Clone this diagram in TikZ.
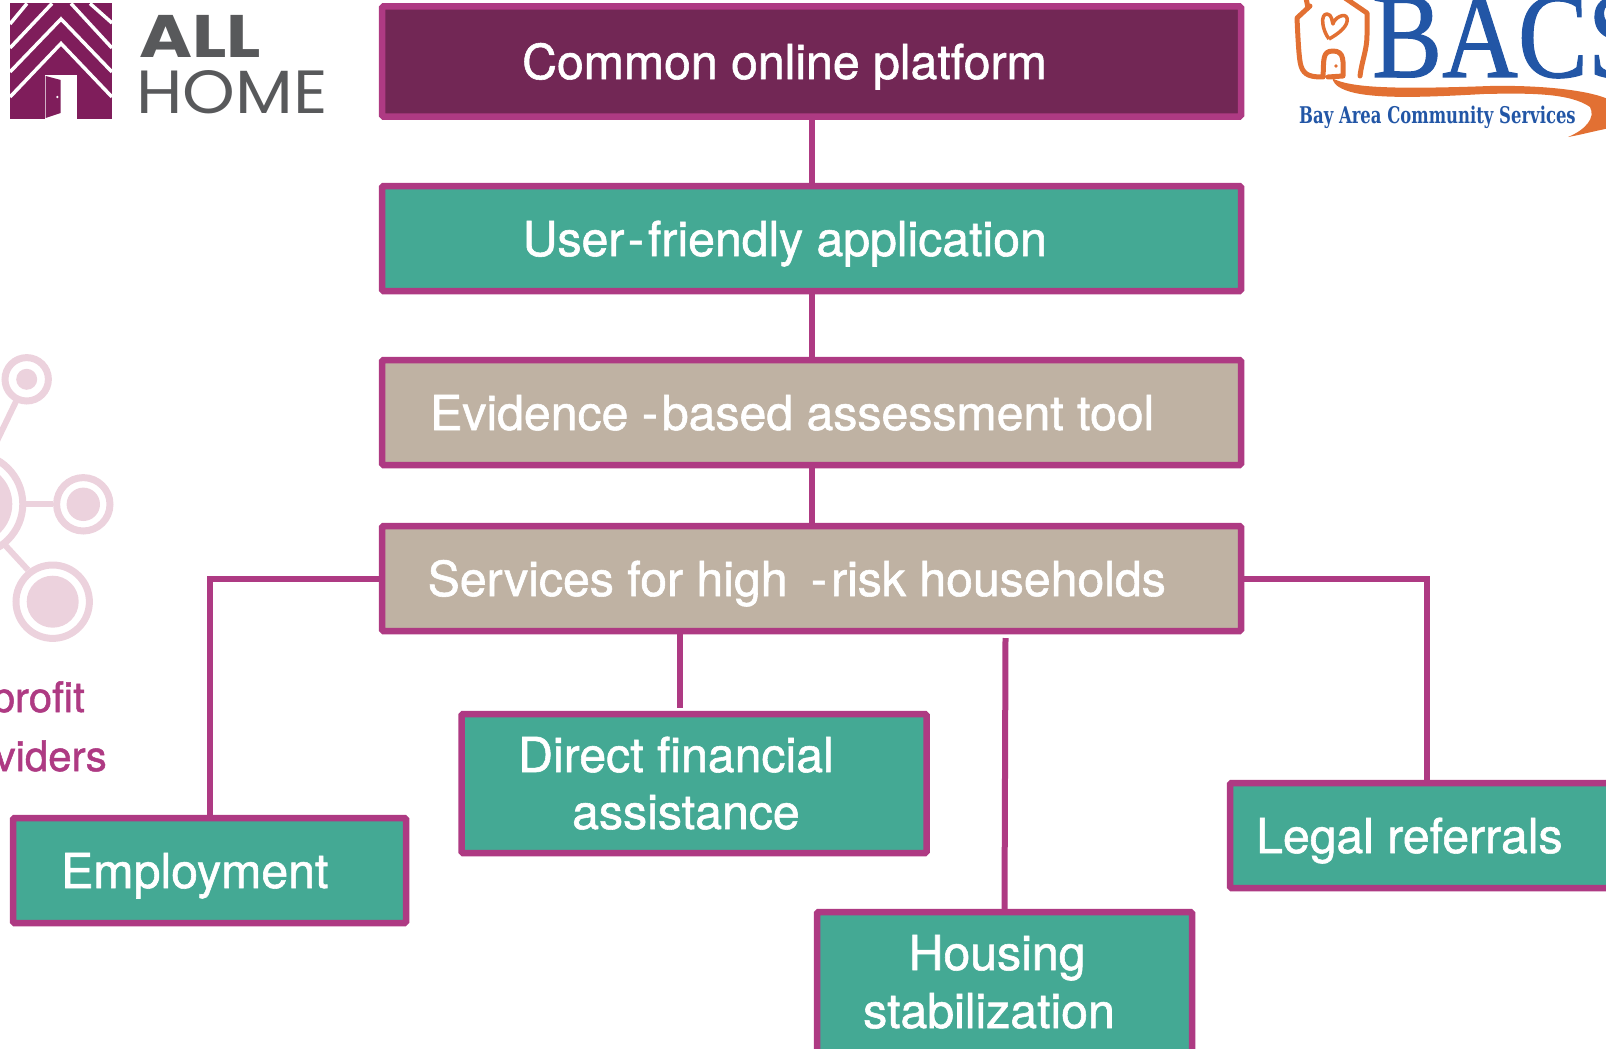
\documentclass[tikz,border=0pt]{standalone}
\usepackage{fontspec}
\setmainfont[RawFeature={embolden=1.2}]{TeX Gyre Heros}
\newfontfamily\serifbacs[RawFeature={embolden=1}]{Liberation Serif}
\newfontfamily\slabbacs{DejaVu Serif}
\newfontfamily\logoallhome{Poppins}
\usepackage{xcolor}
\usetikzlibrary{positioning,calc}

\definecolor{edgepink}{HTML}{AE3A83}
\definecolor{darkplum}{HTML}{722755}
\definecolor{teal}{HTML}{44A994}
\definecolor{tan}{HTML}{BFB2A3}
\definecolor{logoplum}{HTML}{7F1D5B}
\definecolor{logogrey}{HTML}{58595B}
\definecolor{softpink}{HTML}{ECD2DD}
\definecolor{bacsblue}{HTML}{2256A6}
\definecolor{bacsorange}{HTML}{E27033}

\tikzset{
	stagebox/.style={draw=edgepink,line width=6.5pt,rounded corners=1.5pt,anchor=north west,inner sep=0pt,outer sep=0pt},
	stagetext/.style={anchor=base west,inner sep=0pt,text=white,font=\fontsize{48.2}{56}\selectfont},
	link/.style={draw=edgepink,line width=6pt},
}

\begin{document}
\begin{tikzpicture}[x=1pt,y=-1pt]
	\useasboundingbox (0,0) rectangle (1606,1049);
	\clip (0,0) rectangle (1606,1049);

	% logo All Home
	\fill[logoplum] (10,3.5) rectangle (112,119);
	\foreach \a/\b in {43.5/97,19/72} {
		\draw[white,line width=3.5pt] (10,\b) -- (61,\a) -- (112,\b);
	}
	\draw[white,line width=3.5pt] (10,48) -- (52,3.5) (71,3.5) -- (112,48);
	\draw[white,line width=3.5pt] (10,24) -- (27,3.5) (90,3.5) -- (112,23);
	\fill[white] (45,75) rectangle (77,119);
	\fill[logoplum] (45.7,76) -- (60.7,80) -- (60.7,113) -- (45.7,118) -- cycle;
	\fill[white] (57.3,97) circle (1.3);
	\node[anchor=base west,inner sep=0pt,text=logogrey,font=\logoallhome\bfseries\fontsize{60}{60}\selectfont] (allword) at (139,57.3) {\scalebox{1.2}[1]{ALL}};
	\node[anchor=base west,inner sep=0pt,text=logogrey,font=\logoallhome\fontsize{61}{60}\selectfont] (homeword) at (136,113) {\scalebox{1.1}[1]{HOME}};

	% logo BACS
	\node[anchor=base west,inner sep=0pt,text=bacsblue,font=\serifbacs\fontsize{122}{122}\selectfont] (bacsword) at (1372,77) {\scalebox{.86}[1]{BACS}};
	\node[anchor=base west,inner sep=0pt,text=bacsblue,font=\slabbacs\bfseries\fontsize{23}{24}\selectfont] (bacsname) at (1299,123) {\scalebox{.715}[1]{Bay Area Community Services}};
	\draw[bacsorange,line width=5pt,line join=round,line cap=round]
		(1360,76) .. controls (1362,60) and (1367,50) .. (1367,35)
		-- (1367,13) -- (1345,-2)
		(1310,6) -- (1297,18) .. controls (1298,40) and (1299,60) .. (1301,66)
		.. controls (1304,76) and (1312,77) .. (1323,77)
		.. controls (1324,60) and (1322,51) .. (1333,51)
		.. controls (1345,51) and (1343,62) .. (1343,76) -- (1328,77);
	\draw[bacsorange,line width=5pt,line cap=round] (1308,8) -- (1306,-2);
	\draw[bacsorange,line width=3.5pt,line join=round]
		(1329,39) .. controls (1322,30) and (1320,14) .. (1327,14)
		.. controls (1332,14) and (1332,22) .. (1333,24)
		.. controls (1334,18) and (1345,12) .. (1347,18)
		.. controls (1349,26) and (1338,34) .. (1329,39);
	\fill[bacsorange] (1336,66) circle (1.8);
	\fill[bacsorange] (1328,76) .. controls (1345,87) and (1380,90) .. (1490,86)
		.. controls (1540,85) and (1590,90) .. (1610,100)
		-- (1610,128) .. controls (1590,132) and (1580,135) .. (1568,137)
		.. controls (1585,130) and (1596,118) .. (1590,107)
		.. controls (1570,93) and (1530,93) .. (1484,94)
		.. controls (1430,97) and (1370,100) .. (1345,90)
		.. controls (1335,86) and (1333,82) .. (1332,77) -- cycle;

	% network icon
	\foreach \cx/\cy/\ro/\rd in {26.7/379.3/21.7/10.5,83.3/504.3/26.7/16.7,52.7/601.7/36.7/26,-27.7/504/50.5/40} {
		\draw[softpink,line width=7pt] (\cx,\cy) circle (\ro);
		\fill[softpink] (\cx,\cy) circle (\rd);
	}
	\draw[softpink,line width=6pt] (16.7,400) -- (-5,445);
	\draw[softpink,line width=6pt] (26,504) -- (53,504);
	\draw[softpink,line width=6pt] (5,545) -- (28,570);
	\node[anchor=base east,inner sep=0pt,text=edgepink,font=\fontsize{42}{48}\selectfont] (sidea) at (85,712) {profit};
	\node[anchor=base east,inner sep=0pt,text=edgepink,font=\fontsize{42}{48}\selectfont] (sideb) at (107,771) {viders};

	% stacked boxes
	\node[stagebox,fill=darkplum,minimum width=859pt,minimum height=110pt] (common) at (382,6.5) {};
	\node[stagebox,fill=teal,minimum width=859pt,minimum height=105pt] (user) at (382,186) {};
	\node[stagebox,fill=tan,minimum width=859pt,minimum height=105pt] (evidence) at (382,360) {};
	\node[stagebox,fill=tan,minimum width=859pt,minimum height=105pt] (services) at (382,526) {};

	% service boxes
	\node[stagebox,fill=teal,minimum width=393pt,minimum height=105pt] (employment) at (13,818) {};
	\node[stagebox,fill=teal,minimum width=465pt,minimum height=139pt] (direct) at (461.5,714) {};
	\node[stagebox,fill=teal,minimum width=375pt,minimum height=170pt] (housing) at (817,912) {};
	\node[stagebox,fill=teal,minimum width=394pt,minimum height=105pt] (legal) at (1230,783) {};

	% box texts
	\node[stagetext] (commontext) at (522,79) {Common online platform};
	\node[stagetext] (usertext) at (522.5,256) {User\hspace{3.5pt}-\hspace{4pt}friendly application};
	\node[stagetext] (evidencetext) at (430,430) {Evidence -\hspace{4pt}based assessment tool};
	\node[stagetext] (servicestext) at (427.5,596) {Services for high\hspace{10pt} -\hspace{4pt}risk households};
	\node[stagetext] (employmenttext) at (61,888) {Employment};
	\node[stagetext] (directtexta) at (518,772) {Direct financial};
	\node[stagetext] (directtextb) at (572,829) {assistance};
	\node[stagetext] (housingtexta) at (908.5,970) {Housing};
	\node[stagetext] (housingtextb) at (863,1028) {stabilization};
	\node[stagetext] (legaltext) at (1256,853) {Legal referrals};

	% free ends of the two connectors that stop short of a box
	\coordinate (directend) at (680,708);
	\coordinate (housingend) at (1005.5,638);

	% connectors
	\draw[link] (common.south) -- (user.north);
	\draw[link] (user.south) -- (evidence.north);
	\draw[link] (evidence.south) -- (services.north);
	\draw[link] (services.west) -| (employment.north);
	\draw[link] (services.east) -| (legal.north);
	\draw[link] (services.south -| directend) -- (directend);
	\draw[link] (housingend) -- (housing.north);
\end{tikzpicture}
\end{document}
